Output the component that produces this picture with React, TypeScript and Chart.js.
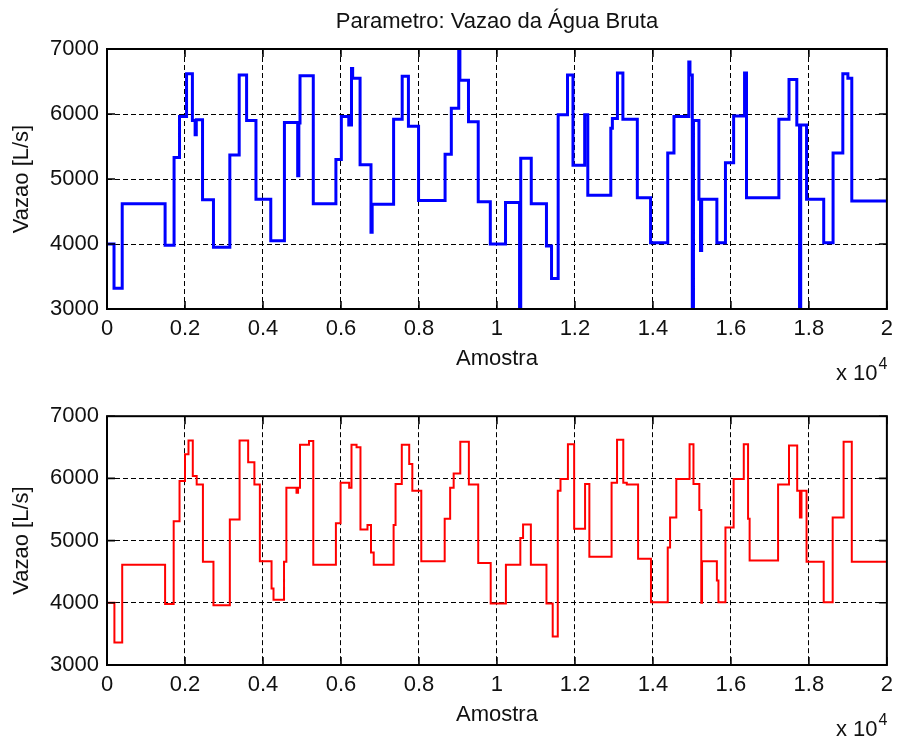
import { useEffect, useRef } from "react";
import { Chart, registerables } from "chart.js";

Chart.register(...registerables);

// Sample axis (x 10^4) and flow axis ticks
const xTickValues = [0, 2000, 4000, 6000, 8000, 10000, 12000, 14000, 16000, 18000, 20000];
const xTickLabels = ["0", "0.2", "0.4", "0.6", "0.8", "1", "1.2", "1.4", "1.6", "1.8", "2"];
const yTickValues = [3000, 4000, 5000, 6000, 7000];
const sampleEnd = 20000;

// Raw flow measurement: sample index where each level begins, and the level (L/s)
const rawStart = [
  0, 180, 390, 1490, 1720, 1860, 2040, 2190, 2260, 2290, 2450, 2730, 3150, 3390, 3580, 3820,
  4200, 4550, 4890, 4920, 4950, 5290, 5870, 6010, 6200, 6270, 6300, 6490, 6770, 6800, 7350,
  7570, 7730, 7990, 8670, 8830, 9020, 9050, 9270, 9520, 9830, 10220, 10580, 10610, 10880,
  11270, 11400, 11570, 11810, 11950, 12250, 12330, 12920, 12960, 13090, 13230, 13600, 13940,
  14380, 14540, 14920, 14950, 15010, 15040, 15180, 15220, 15250, 15640, 15860, 16070, 16350,
  16400, 17230, 17490, 17690, 17760, 17790, 17940, 18380, 18620, 18870, 19000, 19100,
];
const rawLevel = [
  4000, 3320, 4620, 3980, 5330, 5960, 6620, 5900, 5680, 5910, 4680, 3950, 5370, 6600, 5900, 4690,
  4050, 5870, 5050, 5860, 6590, 4620, 5300, 5960, 5830, 6700, 6550, 5220, 4180, 4610, 5920,
  6580, 5810, 4670, 5380, 6090, 7000, 6520, 5880, 4650, 4000, 4640, 2950, 5320, 4620,
  3970, 3470, 5990, 6600, 5210, 5990, 4750, 5780, 5930, 6630, 5920, 4710, 4020,
  5400, 5960, 6800, 6600, 2950, 5900, 4690, 3900, 4690, 4020, 5250, 5970, 6630,
  4710, 5920, 6530, 5830, 2950, 5830, 4690, 4020, 5400, 6620, 6550, 4660,
];

// Filtered flow: sample index where each level begins, and the level (L/s)
const filtStart = [
  0, 190, 390, 1490, 1710, 1860, 2000, 2090, 2200, 2300, 2460, 2730, 3150, 3400, 3620, 3780,
  3920, 4220, 4270, 4540, 4600, 4860, 4900, 4950, 5180, 5290, 5870, 5990, 6210, 6270, 6400,
  6500, 6680, 6770, 6840, 7350, 7400, 7560, 7750, 7830, 8060, 8660, 8800, 8890, 9060, 9280,
  9520, 9840, 10230, 10600, 10670, 10870, 11270, 11430, 11560, 11630, 11820, 11980, 12260,
  12370, 12940, 13080, 13240, 13330, 13620, 13950, 14380, 14440, 14600, 14940, 15040, 15190,
  15240, 15260, 15640, 15680, 15860, 16070, 16330, 16440, 16480, 17210, 17490, 17700, 17770,
  17810, 17940, 18380, 18610, 18890, 19100,
];
const filtLevel = [
  4000, 3360, 4610, 3980, 5310, 5960, 6390, 6610, 6040, 5900, 4660, 3960, 5340, 6610, 6260, 5900,
  4670, 4230, 4050, 4660, 5850, 5770, 5850, 6540, 6600, 4610, 5280, 5930, 5850, 6540, 6500,
  5180, 5250, 4810, 4610, 5250, 5910, 6540, 6230, 5800, 4670, 5350, 5850, 6080, 6590, 5900,
  4640, 3990, 4610, 5040, 5260, 4610, 3990, 3460, 5800, 5990, 6550, 5190, 5910,
  4740, 5930, 6620, 5930, 5900, 4710, 4010, 4890, 5370, 5990, 6550, 5910, 5490,
  4000, 4670, 4360, 4010, 5210, 5990, 6550, 5350, 4680, 5900, 6530, 5800, 5370,
  5800, 4660, 4010, 5370, 6590, 4660,
];

const FONT = "'Liberation Sans', Arial, Helvetica, sans-serif";
const TEXT = "#111";
const TICK_LEN = 8;

function toSteps(starts: number[], levels: number[]) {
  const pts = starts.map((x, i) => ({ x, y: levels[i] }));
  pts.push({ x: sampleEnd, y: levels[levels.length - 1] });
  return pts;
}

// Axes box with inward tick marks on all four sides
const framePlugin = {
  id: "frame",
  afterDatasetsDraw(chart: any) {
    const { ctx, chartArea: a, scales } = chart;
    ctx.save();
    ctx.strokeStyle = "#000";
    ctx.lineWidth = 1.6;
    ctx.beginPath();
    scales.x.ticks.forEach((t: any) => {
      const px = scales.x.getPixelForValue(t.value);
      ctx.moveTo(px, a.bottom);
      ctx.lineTo(px, a.bottom - TICK_LEN);
      ctx.moveTo(px, a.top);
      ctx.lineTo(px, a.top + TICK_LEN);
    });
    scales.y.ticks.forEach((t: any) => {
      const py = scales.y.getPixelForValue(t.value);
      ctx.moveTo(a.left, py);
      ctx.lineTo(a.left + TICK_LEN, py);
      ctx.moveTo(a.right, py);
      ctx.lineTo(a.right - TICK_LEN, py);
    });
    ctx.stroke();
    ctx.lineWidth = 2;
    ctx.strokeRect(a.left, a.top, a.right - a.left, a.bottom - a.top);
    ctx.restore();
  },
};

function annotationPlugin(title: string | null, expY: number) {
  return {
    id: "annotations",
    afterDraw(chart: any) {
      const { ctx, chartArea: a } = chart;
      ctx.save();
      ctx.fillStyle = TEXT;
      ctx.textBaseline = "middle";
      if (title) {
        ctx.font = `22px ${FONT}`;
        ctx.textAlign = "center";
        ctx.fillText(title, (a.left + a.right) / 2, 22);
      }
      ctx.textAlign = "left";
      ctx.font = `22px ${FONT}`;
      const base = "x 10";
      const x0 = 836;
      ctx.fillText(base, x0, expY);
      const w = ctx.measureText(base).width;
      ctx.font = `16px ${FONT}`;
      ctx.fillText("4", x0 + w + 1, expY - 9);
      ctx.restore();
    },
  };
}

interface PanelCfg {
  starts: number[];
  levels: number[];
  color: string;
  lineWidth: number;
  title: string | null;
  padTop: number;
  xAxisHeight: number;
  xTitlePadBottom: number;
  expY: number;
}

function buildChart(canvas: HTMLCanvasElement, cfg: PanelCfg) {
  const font = { family: FONT, size: 22 };
  return new Chart(canvas, {
    type: "line",
    data: {
      datasets: [
        {
          data: toSteps(cfg.starts, cfg.levels),
          borderColor: cfg.color,
          borderWidth: cfg.lineWidth,
          stepped: true,
          pointRadius: 0,
          fill: false,
          clip: 0,
        },
      ],
    },
    options: {
      animation: false,
      responsive: false,
      devicePixelRatio: 1,
      layout: { padding: { top: cfg.padTop, right: 10, left: 0, bottom: 0 } },
      plugins: { legend: { display: false }, tooltip: { enabled: false } },
      scales: {
        x: {
          type: "linear",
          min: 0,
          max: sampleEnd,
          afterBuildTicks: (s: any) => {
            s.ticks = xTickValues.map((v) => ({ value: v }));
          },
          afterFit: (s: any) => {
            s.height = cfg.xAxisHeight;
          },
          ticks: {
            callback: (_v: any, i: number) => xTickLabels[i],
            padding: 7,
            font,
            color: TEXT,
            maxRotation: 0,
            autoSkip: false,
          },
          grid: { color: "#000", lineWidth: 1, drawTicks: false },
          border: { display: false, dash: [5, 3] },
          title: {
            display: true,
            text: "Amostra",
            font,
            color: TEXT,
            padding: { top: 0, bottom: cfg.xTitlePadBottom },
          },
        },
        y: {
          type: "linear",
          min: 3000,
          max: 7000,
          afterBuildTicks: (s: any) => {
            s.ticks = yTickValues.map((v) => ({ value: v }));
          },
          afterFit: (s: any) => {
            s.width = 107;
          },
          ticks: {
            callback: (v: any) => String(v),
            padding: 8,
            font,
            color: TEXT,
          },
          grid: { color: "#000", lineWidth: 1, drawTicks: false },
          border: { display: false, dash: [5, 3] },
          title: {
            display: true,
            text: "Vazao [L/s]",
            font,
            color: TEXT,
            padding: { top: 9, bottom: 0 },
          },
        },
      },
    },
    plugins: [framePlugin, annotationPlugin(cfg.title, cfg.expY)],
  } as any);
}

export default function App() {
  const topRef = useRef<HTMLCanvasElement | null>(null);
  const bottomRef = useRef<HTMLCanvasElement | null>(null);

  useEffect(() => {
    if (!topRef.current || !bottomRef.current) return;
    const top = buildChart(topRef.current, {
      starts: rawStart,
      levels: rawLevel,
      color: "#0000ff",
      lineWidth: 3,
      title: "Parametro: Vazao da Água Bruta",
      padTop: 49,
      xAxisHeight: 86,
      xTitlePadBottom: 23,
      expY: 374,
    });
    const bottom = buildChart(bottomRef.current, {
      starts: filtStart,
      levels: filtLevel,
      color: "#ff0000",
      lineWidth: 2,
      title: null,
      padTop: 10,
      xAxisHeight: 79,
      xTitlePadBottom: 16,
      expY: 335,
    });
    return () => {
      top.destroy();
      bottom.destroy();
    };
  }, []);

  return (
    <div style={{ position: "absolute", left: 0, top: 0, width: 900, height: 744, background: "#fff" }}>
      <canvas
        ref={topRef}
        width={900}
        height={395}
        style={{ position: "absolute", left: 0, top: 0, width: 900, height: 395 }}
      />
      <canvas
        ref={bottomRef}
        width={900}
        height={349}
        style={{ position: "absolute", left: 0, top: 395, width: 900, height: 349 }}
      />
    </div>
  );
}
